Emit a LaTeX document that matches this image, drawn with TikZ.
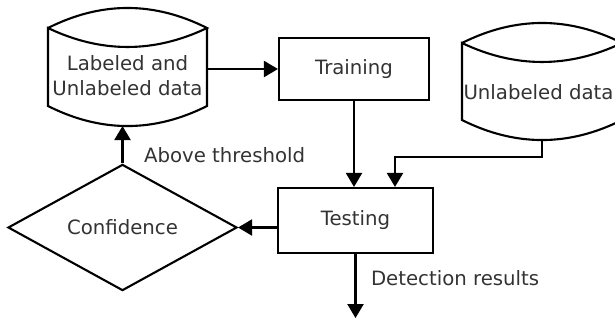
\documentclass[tikz,border=0pt]{standalone}
\usepackage{fontspec}
\setmainfont{DejaVu Sans}
\usetikzlibrary{shapes.geometric,arrows.meta}

\begin{document}
\begin{tikzpicture}[x=1bp,y=-1bp,line width=2.1bp,
  every node/.style={font=\fontsize{19.8}{25}\selectfont,text=black!80},
  box/.style={draw,rectangle,inner sep=0pt},
  decision/.style={draw,diamond,minimum width=229bp,minimum height=119bp,inner sep=0pt},
  store/.style={minimum width=159bp,minimum height=78bp,inner sep=0pt,align=center},
  lbl/.style={anchor=west,inner sep=0pt},
  arr/.style={-{Triangle[width=16bp,length=14bp]}}]

\useasboundingbox (0,0) rectangle (615,321);

%boxes
\node[box,minimum width=150bp,minimum height=62bp] (train) at (354,69)    {Training};
\node[box,minimum width=155bp,minimum height=65bp] (test)  at (355.5,220.5) {Testing};
\node[decision] (conf) at (122.5,227.5) {Confidence};
%
\node[store] (labeled)   at (127.5,76) {Labeled and\\Unlabeled data};
\node[store,minimum width=0pt] (unlabeled) at (538.5,92) {Unlabeled data};

%database outlines
\coordinate (a1) at (48,28);
\coordinate (b1) at (207,28);
\coordinate (c1) at (48,106);
\coordinate (d1) at (207,106);
\coordinate (lbot) at (127.5,126);
\draw (a1) .. controls (101,1.3) and (154,1.3) .. (b1)
           .. controls (154,53.3) and (101,53.3) .. (a1)
        -- (c1) .. controls (101,132.7) and (154,132.7) .. (d1) -- (b1);
%
\coordinate (a2) at (462,43);
\coordinate (b2) at (622,43);
\coordinate (c2) at (462,120);
\coordinate (d2) at (622,120);
\coordinate (ubot) at (542,140);
\draw (a2) .. controls (515.3,16.3) and (568.7,16.3) .. (b2)
           .. controls (568.7,68.3) and (515.3,68.3) .. (a2)
        -- (c2) .. controls (515.3,146.7) and (568.7,146.7) .. (d2) -- (b2);

%arrows
\draw[arr] (labeled.east |- train.west) -- (train.west);
\draw[arr] (train.south) -- (train.south |- test.north);
\draw[arr] (ubot) -- ++(0,17) -| ([xshift=39.5bp]test.north);
\draw[arr] (test.west |- conf.east) -- (conf.east);
\draw[arr] (conf.north) -- (conf.north |- lbot);
\draw[arr] (test.south) -- ++(0,64);

%labels
\node[lbl] (above)  at (143,155) {Above threshold};
\node[lbl] (detect) at (370,278) {Detection results};

\end{tikzpicture}
\end{document}
